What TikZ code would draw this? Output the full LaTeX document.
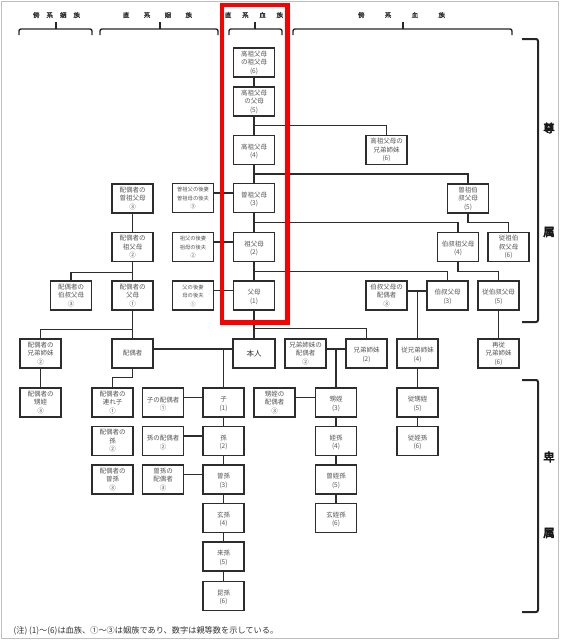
\documentclass[tikz,border=0pt]{standalone}
\usepackage{fontspec}
\usepackage{tikz}
\usetikzlibrary{positioning,calc}
\newfontfamily\jp{Noto Sans CJK JP}
\newfontfamily\jpb[FakeBold=1.5]{Noto Sans CJK JP}
\newfontfamily\jpbb[FakeBold=4]{Noto Sans CJK JP}
\definecolor{boxline}{RGB}{45,45,45}
\definecolor{boxtext}{RGB}{85,85,85}
\definecolor{redframe}{RGB}{250,0,0}

\tikzset{
  kin/.style={draw=boxline, line width=1.2pt, fill=white, minimum width=41pt,
    minimum height=29pt, inner sep=0pt, align=center, text=boxtext,
    font=\jp\fontsize{6.5}{8.5}\selectfont},
  kinsmall/.style={kin, font=\jp\fontsize{5.3}{8.5}\selectfont},
  self/.style={kin, line width=2pt, minimum width=42pt, text=black!80,
    font=\jp\fontsize{7.5}{9}\selectfont},
  link/.style={draw=boxline, line width=1.1pt},
  brkt/.style={draw=black!85, line width=1.4pt, rounded corners=2pt},
  head/.style={font=\jpb\fontsize{6.5}{7}\selectfont, text=black!80},
  side/.style={font=\jpbb\fontsize{11.5}{12}\selectfont, text=black!90}
}

\begin{document}
\begin{tikzpicture}[x=1pt, y=-1pt]
  \useasboundingbox (0,0) rectangle (560,640);
  \draw[black!25, line width=1pt] (1,1) rectangle (558.5,638);

  % Column headings with brackets
  \node[head] (h1) at (56.5,15) {\hbox to 47pt{傍\hfil 系\hfil 姻\hfil 族}};
  \node[head] (h2) at (157.5,15) {\hbox to 69pt{直\hfil 系\hfil 姻\hfil 族}};
  \node[head] (h3) at (254,15) {\hbox to 58pt{直\hfil 系\hfil 血\hfil 族}};
  \node[head] (h4) at (401.5,15) {\hbox to 87pt{傍\hfil 系\hfil 血\hfil 族}};
  \draw[brkt] (19,35) -- (19,29) -- (92,29) -- (92,35);
  \draw[brkt] (56,29) -- (56,22);
  \draw[brkt] (100,35) -- (100,29) -- (218,29) -- (218,35);
  \draw[brkt] (160,29) -- (160,22);
  \draw[brkt] (229,35) -- (229,29) -- (282,29) -- (282,35);
  \draw[brkt] (255,29) -- (255,22);
  \draw[brkt] (293,35) -- (293,29) -- (512,29) -- (512,35);
  \draw[brkt] (403,29) -- (403,22);

  % Direct line
  \node[kin] (g6) at (254,62.5) {高祖父母\\の祖父母\\(6)};
  \node[kin] (g5) at (254,101.5) {高祖父母\\の父母\\(5)};
  \node[kin] (g4) at (254,150) {\mbox{}\\高祖父母\\(4)};
  \node[kin] (g3) at (254,198) {\mbox{}\\曽祖父母\\(3)};
  \node[kin] (g2) at (254,247) {\mbox{}\\祖父母\\(2)};
  \node[kin] (g1) at (254,295.5) {\mbox{}\\父母\\(1)};
  \node[self] (me) at (254,353.5) {本人};

  % Step-parents
  \node[kinsmall] (sgg) at (193,198) {曽祖父の後妻\\曽祖母の後夫\\③};
  \node[kinsmall] (sg) at (193,247) {祖父の後妻\\祖母の後夫\\②};
  \node[kinsmall] (sf) at (193,295.5) {父の後妻\\母の後夫\\①};

  % Spouse side
  \node[kin] (pgg) at (132.5,198.5) {配偶者の\\曽祖父母\\③};
  \node[kin] (pg) at (132.5,247) {配偶者の\\祖父母\\②};
  \node[kin] (pp) at (132.5,295.5) {配偶者の\\父母\\①};
  \node[kin] (pu) at (71,295.5) {配偶者の\\伯叔父母\\③};
  \node[kin] (psib) at (40.5,353.5) {配偶者の\\兄弟姉妹\\②};
  \node[kin] (sp) at (132.5,353.5) {配偶者};
  \node[kin] (pn) at (40.5,402.5) {配偶者の\\甥姪\\③};
  \node[kin] (pc) at (112.5,402.5) {配偶者の\\連れ子\\①};
  \node[kin] (pgc) at (112.5,441) {配偶者の\\孫\\②};
  \node[kin] (pggc) at (112.5,479.5) {配偶者の\\曽孫\\③};

  % Descendants
  \node[kin] (c1) at (223.5,402.5) {\mbox{}\\子\\(1)};
  \node[kin] (c2) at (223.5,441) {\mbox{}\\孫\\(2)};
  \node[kin] (c3) at (223.5,479.5) {\mbox{}\\曽孫\\(3)};
  \node[kin] (c4) at (223.5,518) {\mbox{}\\玄孫\\(4)};
  \node[kin] (c5) at (223.5,556.5) {\mbox{}\\来孫\\(5)};
  \node[kin] (c6) at (223.5,596) {\mbox{}\\昆孫\\(6)};
  \node[kin] (cs1) at (163,402.5) {\mbox{}\\子の配偶者\\①};
  \node[kin] (cs2) at (163,441) {\mbox{}\\孫の配偶者\\②};
  \node[kin] (cs3) at (163,479.5) {曽孫の\\配偶者\\③};

  % Collateral relatives
  \node[kin] (gs6) at (386.5,150) {高祖父母の\\兄弟姉妹\\(6)};
  \node[kin] (ggu) at (468,198.5) {曽祖伯\\叔父母\\(5)};
  \node[kin] (gu) at (458,247) {\mbox{}\\伯叔祖父母\\(4)};
  \node[kin] (ggcu) at (508.5,247) {従祖伯\\叔父母\\(6)};
  \node[kin] (u) at (447.5,295.5) {\mbox{}\\伯叔父母\\(3)};
  \node[kin] (us) at (386.5,295.5) {伯叔父母の\\配偶者\\③};
  \node[kin] (cu) at (498.5,295.5) {\mbox{}\\従伯叔父母\\(5)};
  \node[kin] (bs) at (305.5,353.5) {兄弟姉妹の\\配偶者\\②};
  \node[kin] (sib) at (366.5,353.5) {\mbox{}\\兄弟姉妹\\(2)};
  \node[kin] (cs) at (417.5,353.5) {\mbox{}\\従兄弟姉妹\\(4)};
  \node[kin] (scs) at (498.5,353.5) {再従\\兄弟姉妹\\(6)};
  \node[kin] (ns) at (274.5,402.5) {甥姪の\\配偶者\\③};
  \node[kin] (n1) at (336,402.5) {\mbox{}\\甥姪\\(3)};
  \node[kin] (n2) at (336,441) {\mbox{}\\姪孫\\(4)};
  \node[kin] (n3) at (336,479.5) {\mbox{}\\曽姪孫\\(5)};
  \node[kin] (n4) at (336,518) {\mbox{}\\玄姪孫\\(6)};
  \node[kin] (cn1) at (417.5,402.5) {\mbox{}\\従甥姪\\(5)};
  \node[kin] (cn2) at (417.5,441) {\mbox{}\\従姪孫\\(6)};

  % Links: direct line and branches
  \draw[link] (g6) -- (g5) -- (g4) -- (g3) -- (g2) -- (g1) -- (me);
  \draw[link] ($(g5.south)!.5!(g4.north)$) -| (gs6);
  \draw[link] ($(g4.south)!.5!(g3.north)$) -| (ggu);
  \draw[link] ($(g3.south)!.5!(g2.north)$) -| (gu);
  \draw[link] ($(g2.south)!.5!(g1.north)$) -| (u);
  \draw[link] ($(g1.south)!.65!(me.north)$) -| (sib);
  \draw[link] (ggu.south) -- ++(0,9) -| (ggcu);
  \draw[link] (gu.south) -- ++(0,9) -| (cu);
  \draw[link] ([yshift=4.5pt]us.east) -- ([yshift=4.5pt]u.west);
  \draw[link] (cs) -- ([yshift=4.5pt]cs.north |- u.west);
  \draw[link] (cs) -- (cn1) -- (cn2);
  \draw[link] (cu) -- (scs);
  \draw[link] ([yshift=4.5pt]bs.east) -- ([yshift=4.5pt]sib.west);
  \draw[link] (n1) -- ([yshift=4.5pt]n1.north |- sib.west);
  \draw[link] ([yshift=5pt]ns.east) -- ([yshift=5pt]n1.west);
  \draw[link] (n1) -- (n2) -- (n3) -- (n4);

  % Links: step-parents and spouse side
  \draw[link] ([yshift=5pt]sgg.east) -- ([yshift=5pt]g3.west);
  \draw[link] ([yshift=5pt]sg.east) -- ([yshift=5pt]g2.west);
  \draw[link] ([yshift=5pt]sf.east) -- ([yshift=5pt]g1.west);
  \draw[link] (pgg) -- (pg) -- (pp) -- (sp);
  \draw[link] (pg.south) -- ++(0,10) -| (pu);
  \draw[link] (pp.south) -- ++(0,19) -| (psib);
  \draw[link] (psib) -- (pn);
  \draw[link] ([yshift=4.5pt]sp.east) -- ([yshift=4.5pt]me.west);
  \draw[link] (sp.south) -- ++(0,9) -| (pc);

  % Links: descendants
  \draw[link] (c1) -- ([yshift=4.5pt]c1.north |- me.west);
  \draw[link] (c1) -- (c2) -- (c3) -- (c4) -- (c5) -- (c6);
  \draw[link] ([yshift=5pt]cs1.east) -- ([yshift=5pt]c1.west);
  \draw[link] ([yshift=5pt]cs2.east) -- ([yshift=5pt]c2.west);
  \draw[link] ([yshift=5pt]cs3.east) -- ([yshift=5pt]c3.west);

  % Red frame round the direct line
  \draw[redframe, line width=4.5pt] (222,5) rectangle (287.5,322.5);

  % Ascendant / descendant brackets
  \draw[brkt, line width=2pt] (522,39) -- (538,39) -- (538,322) -- (522,322);
  \draw[brkt, line width=2pt] (522,380) -- (538,380) -- (538,612) -- (522,612);
  \node[side] (s1) at (549,128) {尊};
  \node[side] (s2) at (549,232) {属};
  \node[side] (s3) at (549,457) {卑};
  \node[side] (s4) at (549,533) {属};

  % Note
  \node[anchor=west, font=\jp\fontsize{8.2}{9}\selectfont, text=black!80]
    (note) at (10,631) {(注) (1)～(6)は血族、①～③は姻族であり、数字は親等数を示している。};
\end{tikzpicture}
\end{document}
